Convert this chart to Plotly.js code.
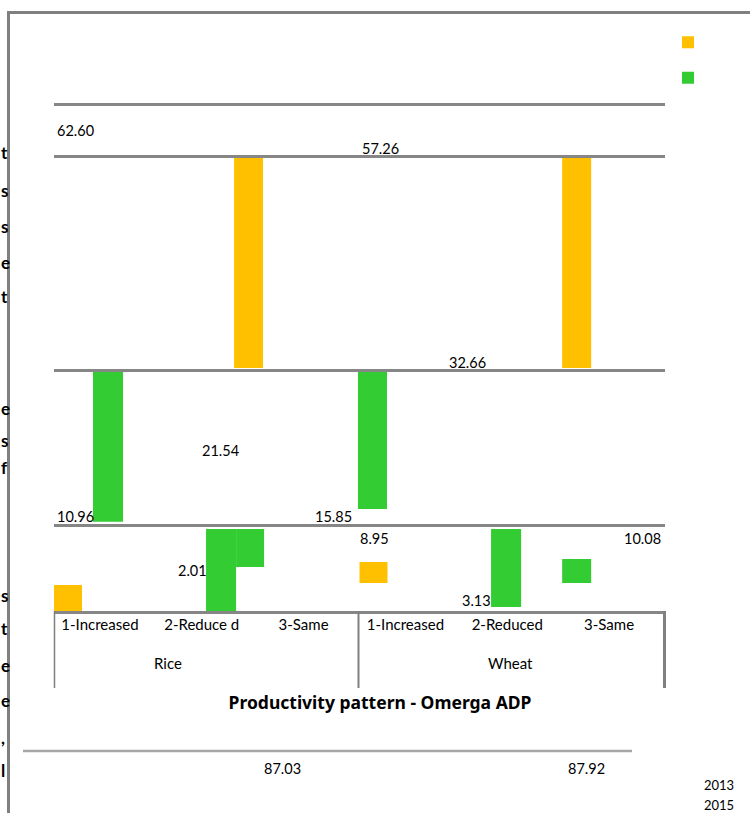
<!DOCTYPE html>
<html>
<head>
<meta charset="utf-8">
<script src="https://cdn.plot.ly/plotly-3.0.1.min.js"></script>
<style>
  html, body { margin: 0; padding: 0; background: #ffffff; }
  #chart { width: 750px; height: 813px; }
</style>
</head>
<body>
<div id="chart"></div>
<script>
// Productivity pattern of rice and wheat farmers (% of farmers), Omerga ADP
const crops = ["Rice", "Wheat"];
const patterns = ["1-Increased", "2-Reduce d", "3-Same", "1-Increased", "2-Reduced", "3-Same"];
const years = ["2013", "2015"];

const rice2013 = [10.96, 2.01, 87.03];
const rice2015 = [62.60, 15.85, 21.54];
const wheat2013 = [8.95, 3.13, 87.92];
const wheat2015 = [57.26, 10.08, 32.66];

// Bar segments as laid out on the category axis (slot index, offset inside slot, low/high on the value axis)
const orangeSlot = [0, 1, 3, 5];
const orangeOffset = [-0.50, 0.268, -0.50, -0.51];
const orangeWidth = [0.275, 0.285, 0.275, 0.285];
const orangeLow = [0, 47.93, 5.52, 47.93];
const orangeHigh = [5.13, 89.35, 9.66, 89.35];

const greenSlot = [0, 1, 1, 3, 4, 5];
const greenOffset = [-0.117, -0.007, 0.288, -0.515, -0.208, -0.51];
const greenWidth = [0.295, 0.295, 0.275, 0.285, 0.295, 0.285];
const greenLow = [17.61, 0, 8.68, 20.12, 0.79, 5.52];
const greenHigh = [47.14, 16.17, 16.17, 47.14, 16.17, 10.26];

// Value-axis grid levels
const gridLevels = [16.77, 47.34, 89.55, 100];

// ---- page geometry helpers (pixels -> paper) ----
const W = 750, H = 813;
const L = 54, R = 665, T = 90, B = 611;
const px = x => (x - L) / (R - L);
const py = y => (B - y) / (B - T);
const yTop = (B - T) / 5.07;

const FONT = "Lato, 'Noto Sans', sans-serif";
const GRID = "#868686";

const span = (hi, lo) => hi.map((h, i) => h - lo[i]);

const traces = [
  {
    type: "bar", name: "",
    x: orangeSlot, base: orangeLow, y: span(orangeHigh, orangeLow),
    offset: orangeOffset, width: orangeWidth,
    marker: { color: "#FFC000", line: { width: 0 } },
    hoverinfo: "skip", legendgroup: years[0]
  },
  {
    type: "bar", name: "",
    x: greenSlot, base: greenLow, y: span(greenHigh, greenLow),
    offset: greenOffset, width: greenWidth,
    marker: { color: "#33CC33", line: { width: 0 } },
    hoverinfo: "skip", legendgroup: years[1]
  }
];

// Data labels: value and where it sits on the page
const labelSpots = [
  [rice2015[0], 55, 131], [wheat2015[0], 360, 148], [wheat2015[2], 447, 362],
  [rice2015[2], 200, 450], [rice2013[0], 55, 516], [rice2015[1], 313, 516],
  [wheat2013[0], 358, 538], [wheat2015[1], 622, 538], [rice2013[1], 176, 570],
  [wheat2013[1], 460, 600], [rice2013[2], 262, 768], [wheat2013[2], 566, 768]
];

const annotations = [];
labelSpots.forEach(([v, x, y]) => {
  annotations.push({
    xref: "paper", yref: "paper", x: px(x), y: py(y),
    xanchor: "left", yanchor: "middle", showarrow: false,
    text: v.toFixed(2), font: { family: FONT, size: 14.5, color: "#000" }
  });
});

// Group labels under the categories
[[crops[0], 168], [crops[1], 510]].forEach(([t, x]) => {
  annotations.push({
    xref: "paper", yref: "paper", x: px(x), y: py(663),
    xanchor: "center", yanchor: "middle", showarrow: false,
    text: t, font: { family: FONT, size: 15, color: "#000" }
  });
});

// Year captions
[[years[0], 785], [years[1], 805]].forEach(([t, y]) => {
  annotations.push({
    xref: "paper", yref: "paper", x: px(702), y: py(y),
    xanchor: "left", yanchor: "middle", showarrow: false,
    text: t, font: { family: FONT, size: 13, color: "#000" }
  });
});

// Vertical axis caption, stacked letters at the left edge
const sideLetters = [
  ["t", 152], ["s", 190], ["s", 226], ["e", 262], ["t", 296],
  ["e", 408], ["s", 440], ["f", 468],
  ["s", 595], ["t", 628], ["e", 665], ["e", 700], [",", 738], ["l", 770]
];
sideLetters.forEach(([c, y]) => {
  annotations.push({
    xref: "paper", yref: "paper", x: px(-1), y: py(y),
    xanchor: "left", yanchor: "middle", showarrow: false,
    text: "<b>" + c + "</b>", font: { family: FONT, size: 17, color: "#000" }
  });
});

const line = (x0, y0, x1, y1, w, c) => ({
  type: "line", xref: "paper", yref: "paper",
  x0: px(x0), y0: py(y0), x1: px(x1), y1: py(y1),
  line: { color: c, width: w }, layer: "above"
});

const shapes = [
  line(8.5, 11, 8.5, 813, 3, "#808080"),
  line(7, 12.5, 750, 12.5, 3, "#808080"),
  line(54.5, 611, 54.5, 688, 1.5, "#7f7f7f"),
  line(358.5, 611, 358.5, 688, 2, "#808080"),
  line(664.5, 611, 664.5, 688, 3, "#808080"),
  line(23, 751, 632, 751, 2.5, "#a6a6a6")
];

const layout = {
  width: W, height: H,
  margin: { l: L, r: W - R, t: T, b: H - B, pad: 0 },
  paper_bgcolor: "#ffffff", plot_bgcolor: "#ffffff",
  barmode: "overlay",
  showlegend: true,
  legend: {
    x: px(668), xanchor: "left", y: py(19.5), yanchor: "top",
    font: { family: FONT, size: 25, color: "#000" },
    bgcolor: "rgba(0,0,0,0)", traceorder: "normal"
  },
  title: {
    text: "<b>Productivity pattern - Omerga ADP</b>",
    font: { family: "'Noto Sans', sans-serif", size: 17.5, color: "#000" },
    x: 380 / W, xref: "container", xanchor: "center",
    y: 1 - 703 / H, yref: "container", yanchor: "middle"
  },
  xaxis: {
    range: [-0.5, 5.5], tickvals: [0, 1, 2, 3, 4, 5], ticktext: patterns,
    showgrid: false, zeroline: false,
    showline: true, linecolor: GRID, linewidth: 3,
    ticks: "", ticklabelshift: -5, ticklabelstandoff: -2,
    tickfont: { family: FONT, size: 15, color: "#000" }
  },
  yaxis: {
    range: [0, yTop], tickvals: gridLevels, showticklabels: false,
    showgrid: true, gridcolor: GRID, gridwidth: 3,
    zeroline: false, showline: false, ticks: ""
  },
  annotations: annotations,
  shapes: shapes
};

Plotly.newPlot("chart", traces, layout, { displayModeBar: false, staticPlot: true });
</script>
</body>
</html>
